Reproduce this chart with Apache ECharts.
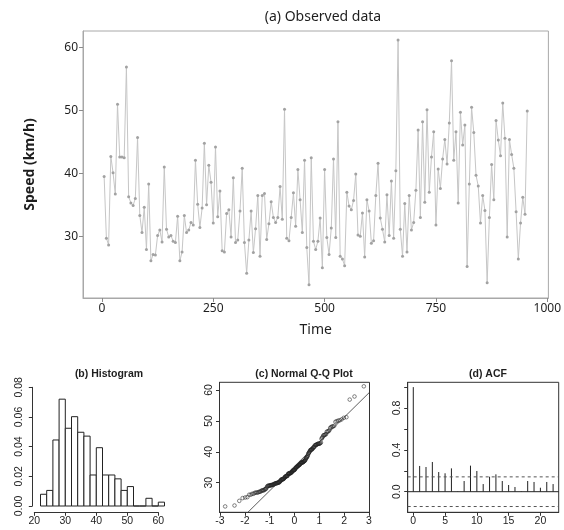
<!DOCTYPE html>
<html>
<head>
<meta charset="utf-8">
<script src="https://cdn.jsdelivr.net/npm/echarts@6/dist/echarts.min.js"></script>
<style>
  html, body { margin: 0; padding: 0; background: #fff; }
  #chart { width: 564px; height: 530px; }
</style>
</head>
<body>
<div id="chart"></div>
<script>
// Observed speed series (km/h), one reading every 5 time units starting at t = 5
const timeStep = 5;
const speeds = [
  39.5, 29.7, 28.6, 42.7, 40.1, 36.7, 51.0, 42.6, 42.6, 42.5, 56.9, 36.3, 35.3, 34.9, 36.0, 45.7,
  33.3, 30.6, 34.6, 27.9, 38.3, 26.1, 27.1, 27.0, 30.1, 31.0, 29.1, 41.0, 31.1, 29.9, 30.1, 29.2,
  29.0, 33.2, 26.1, 27.5, 33.3, 30.6, 31.0, 32.2, 31.8, 42.1, 35.1, 31.4,
  34.5, 44.8, 35.0, 41.3, 38.6, 32.1, 44.2, 33.1, 37.2, 27.7, 27.5, 33.6, 34.2, 29.9, 39.3, 29.0,
  29.4, 34.0, 40.8, 29.0, 24.1, 29.4, 34.0, 27.4, 31.2, 36.5, 26.8, 36.5, 36.8, 29.5, 32.0, 35.5,
  33.0, 32.2, 33.0, 37.9, 32.7, 50.2, 29.7, 29.3, 33.0, 36.9, 31.6, 40.6, 35.8,
  30.6, 42.1, 28.2, 22.3, 42.5, 29.2, 27.9, 29.2, 32.9, 25.0, 40.6, 29.8, 27.1, 31.3, 42.3, 29.8,
  48.2, 26.8, 26.4, 25.3, 37.0, 34.8, 34.2, 35.7, 39.9, 30.2, 30.0, 33.7, 26.7, 35.8, 34.0, 28.9,
  29.3, 36.5, 41.6, 32.9, 31.1, 29.1, 36.6, 30.1, 38.8, 29.7, 40.4, 61.2, 31.1,
  26.8, 35.2, 27.5, 36.5, 31.0, 32.2, 37.3, 46.9, 33.0, 48.2, 35.4, 50.1, 37.0, 42.6, 46.6, 31.8,
  40.7, 37.6, 42.3, 45.4, 41.5, 48.0, 57.9, 42.1, 46.6, 35.3, 49.7, 44.5, 47.7, 25.2, 38.3, 50.5,
  46.5, 39.7, 38.0, 32.1, 36.5, 34.1, 22.6, 33.0, 41.4, 35.8, 48.4, 45.3, 42.8, 51.2,
  45.6, 29.9, 45.4, 43.0, 40.8, 33.9, 26.4, 32.1, 36.2, 33.5, 49.9
];
const timeTicks = [0, 250, 500, 750, 1000];
const speedTicks = [30, 40, 50, 60];

// Histogram: density per 2 km/h bin, first bin starts at 22
const histStart = 22;
const histWidth = 2;
const histDensity = [
  0.0079, 0.0105, 0.0445, 0.0720, 0.0524, 0.0602, 0.0497, 0.0471, 0.0209, 0.0393,
  0.0209, 0.0209, 0.0183, 0.0105, 0.0131, 0, 0, 0.0052, 0, 0.0026
];
const histXTicks = [20, 30, 40, 50, 60];
const histYTicks = [0, 0.02, 0.04, 0.06, 0.08];

// Normal Q-Q axes
const qqXTicks = [-3, -2, -1, 0, 1, 2, 3];
const qqYTicks = [30, 40, 50, 60];

// Sample autocorrelation, lags 0..22
const acfValues = [
  1.0, 0.246, 0.236, 0.284, 0.188, 0.176, 0.223, 0.004, 0.102, 0.249, 0.198, 0.073,
  0.143, 0.166, 0.102, 0.064, 0.045, 0.004, 0.102, 0.093, 0.038, 0.093, 0.073
];
const acfXTicks = [0, 5, 10, 15, 20];
const acfYTicks = [0, 0.2, 0.4, 0.6, 0.8, 1.0];
const acfYLabels = [0, 0.4, 0.8];

// --- helpers -------------------------------------------------------------
// Inverse standard normal CDF (Acklam's rational approximation)
function qnorm(p) {
  const a = [-3.969683028665376e+01, 2.209460984245205e+02, -2.759285104469687e+02,
             1.383577518672690e+02, -3.066479806614716e+01, 2.506628277459239e+00];
  const b = [-5.447609879822406e+01, 1.615858368580409e+02, -1.556989798598866e+02,
             6.680131188771972e+01, -1.328068155288572e+01];
  const c = [-7.784894002430293e-03, -3.223964580411365e-01, -2.400758277161838e+00,
             -2.549671010177489e+00, 4.374664141464968e+00, 2.938163982698783e+00];
  const d = [7.784695709041462e-03, 3.224671290700398e-01, 2.445134137142996e+00,
             3.754408661907416e+00];
  const pl = 0.02425, ph = 1 - pl;
  let q, r;
  if (p < pl) {
    q = Math.sqrt(-2 * Math.log(p));
    return (((((c[0]*q+c[1])*q+c[2])*q+c[3])*q+c[4])*q+c[5]) / ((((d[0]*q+d[1])*q+d[2])*q+d[3])*q+1);
  }
  if (p > ph) {
    q = Math.sqrt(-2 * Math.log(1 - p));
    return -(((((c[0]*q+c[1])*q+c[2])*q+c[3])*q+c[4])*q+c[5]) / ((((d[0]*q+d[1])*q+d[2])*q+d[3])*q+1);
  }
  q = p - 0.5; r = q * q;
  return (((((a[0]*r+a[1])*r+a[2])*r+a[3])*r+a[4])*r+a[5])*q / (((((b[0]*r+b[1])*r+b[2])*r+b[3])*r+b[4])*r+1);
}
// Sample quantile, type 7
function quantile(sorted, p) {
  const h = (sorted.length - 1) * p;
  const lo = Math.floor(h);
  const hi = Math.min(lo + 1, sorted.length - 1);
  return sorted[lo] + (h - lo) * (sorted[hi] - sorted[lo]);
}

const n = speeds.length;
const seriesData = speeds.map((v, i) => [(i + 1) * timeStep, v]);
const sorted = speeds.slice().sort((x, y) => x - y);
const qqData = sorted.map((v, i) => [qnorm((i + 1 - 0.5) / n), v]);
const q1 = quantile(sorted, 0.25), q3 = quantile(sorted, 0.75);
const qqSlope = (q3 - q1) / (qnorm(0.75) - qnorm(0.25));
const qqIntercept = q1 - qqSlope * qnorm(0.25);
const acfBound = 1.96 / Math.sqrt(n);

const QQ_XMIN = -3.02, QQ_XMAX = 3.02;
const ACF_XMIN = -0.88, ACF_XMAX = 22.88;

const topFont = 'Noto Sans';
const rFont = 'Liberation Sans';
const ink = '#1e1e1e';

function rAxisX(grid, min, max, ticks, extra) {
  return Object.assign({
    gridIndex: grid, type: 'value', min: min, max: max,
    splitLine: { show: false },
    axisLine: { onZero: false, lineStyle: { color: '#333', width: 1 } },
    axisTick: { customValues: ticks, length: 3.5, lineStyle: { color: '#333' } },
    axisLabel: { customValues: ticks, margin: 3, fontSize: 10.5, color: ink, fontFamily: rFont,
                 formatter: v => String(v) }
  }, extra || {});
}
function rAxisY(grid, min, max, ticks, labels, fmt, margin, extra) {
  return Object.assign({
    gridIndex: grid, type: 'value', min: min, max: max,
    splitLine: { show: false },
    axisLine: { onZero: false, lineStyle: { color: '#333', width: 1 } },
    axisTick: { customValues: ticks, length: 3.5, lineStyle: { color: '#333' } },
    axisLabel: { customValues: labels, rotate: 90, margin: margin, fontSize: 10.5, color: ink,
                 fontFamily: rFont, formatter: fmt }
  }, extra || {});
}

const chart = echarts.init(document.getElementById('chart'), null, { renderer: 'canvas' });

chart.setOption({
  animation: false,
  backgroundColor: '#fff',
  title: [
    { text: '(a) Observed data', left: 318, top: 5, textAlign: 'center',
      textStyle: { fontSize: 14, fontWeight: 'normal', fontFamily: topFont, color: ink } },
    { text: '(b) Histogram', left: 104, top: 364, textAlign: 'center',
      textStyle: { fontSize: 10.5, fontWeight: 'bold', fontFamily: rFont, color: ink } },
    { text: '(c) Normal Q-Q Plot', left: 299, top: 364, textAlign: 'center',
      textStyle: { fontSize: 10.5, fontWeight: 'bold', fontFamily: rFont, color: ink } },
    { text: '(d) ACF', left: 483, top: 364, textAlign: 'center',
      textStyle: { fontSize: 10.5, fontWeight: 'bold', fontFamily: rFont, color: ink } }
  ],
  grid: [
    { left: 83, top: 31, width: 471, height: 267, show: true, borderColor: '#a8a8a8', borderWidth: 1 },
    { left: 34.3, top: 387.3, width: 124, height: 118.7 },
    { left: 219.5, top: 382.3, width: 150, height: 130, show: true, borderColor: '#333', borderWidth: 1 },
    { left: 407.7, top: 382.3, width: 151, height: 130, show: true, borderColor: '#333', borderWidth: 1 }
  ],
  xAxis: [
    {
      gridIndex: 0, type: 'value', min: -42.5, max: 1002.5,
      splitLine: { show: false },
      axisLine: { onZero: false, lineStyle: { color: '#a8a8a8' } },
      axisTick: { customValues: timeTicks, length: 4, lineStyle: { color: '#8a8a8a' } },
      axisLabel: { customValues: timeTicks, margin: 5, fontSize: 12, color: ink, fontFamily: topFont,
                   formatter: v => String(v) },
      name: 'Time', nameLocation: 'middle', nameGap: 25,
      nameTextStyle: { fontSize: 14, color: ink, fontFamily: topFont }
    },
    rAxisX(1, 20, 60, histXTicks, { offset: 6.3 }),
    rAxisX(2, QQ_XMIN, QQ_XMAX, qqXTicks),
    rAxisX(3, ACF_XMIN, ACF_XMAX, acfXTicks)
  ],
  yAxis: [
    {
      gridIndex: 0, type: 'value', min: 20.18, max: 62.64,
      splitLine: { show: false },
      axisLine: { onZero: false, lineStyle: { color: '#a8a8a8' } },
      axisTick: { customValues: speedTicks, length: 4, lineStyle: { color: '#8a8a8a' } },
      axisLabel: { customValues: speedTicks, margin: 5, fontSize: 12, color: ink, fontFamily: topFont },
      name: 'Speed (km/h)', nameLocation: 'middle', nameGap: 46, nameRotate: 90,
      nameTextStyle: { fontSize: 14, color: ink, fontFamily: topFont, fontWeight: 'bold' }
    },
    rAxisY(1, 0, 0.08, histYTicks, histYTicks, v => v.toFixed(2), 8, { offset: 2 }),
    rAxisY(2, 20.4, 62.5, qqYTicks, qqYTicks, v => String(v), 5),
    rAxisY(3, -0.197, 1.046, acfYTicks, acfYLabels, v => v.toFixed(1), 5)
  ],
  series: [
    {
      type: 'line', xAxisIndex: 0, yAxisIndex: 0, data: seriesData,
      symbol: 'circle', symbolSize: 3, showSymbol: true,
      lineStyle: { color: '#c6c6c6', width: 1 },
      itemStyle: { color: '#a2a2a2' }
    },
    {
      type: 'custom', xAxisIndex: 1, yAxisIndex: 1, clip: false,
      data: histDensity.map((dens, i) => [histStart + i * histWidth, histStart + (i + 1) * histWidth, dens]),
      renderItem: function (params, api) {
        const p0 = api.coord([api.value(0), 0]);
        const p1 = api.coord([api.value(1), api.value(2)]);
        return {
          type: 'rect',
          shape: { x: p0[0], y: p1[1], width: p1[0] - p0[0], height: p0[1] - p1[1] },
          style: { fill: '#fff', stroke: '#222', lineWidth: 1 }
        };
      }
    },
    {
      type: 'scatter', xAxisIndex: 2, yAxisIndex: 2, data: qqData,
      symbol: 'circle', symbolSize: 3.6,
      itemStyle: { color: 'rgba(255,255,255,0)', borderColor: '#222', borderWidth: 0.7 }
    },
    {
      type: 'line', xAxisIndex: 2, yAxisIndex: 2, clip: true, symbol: 'none',
      data: [[QQ_XMIN, qqIntercept + qqSlope * QQ_XMIN], [QQ_XMAX, qqIntercept + qqSlope * QQ_XMAX]],
      lineStyle: { color: '#333', width: 0.8 }
    },
    {
      type: 'line', xAxisIndex: 3, yAxisIndex: 3, symbol: 'none',
      data: [[ACF_XMIN, 0], [ACF_XMAX, 0]],
      lineStyle: { color: '#222', width: 1 }
    },
    {
      type: 'line', xAxisIndex: 3, yAxisIndex: 3, symbol: 'none',
      data: [[ACF_XMIN, acfBound], [ACF_XMAX, acfBound]],
      lineStyle: { color: '#555', width: 1, type: [3, 3] }
    },
    {
      type: 'line', xAxisIndex: 3, yAxisIndex: 3, symbol: 'none',
      data: [[ACF_XMIN, -acfBound], [ACF_XMAX, -acfBound]],
      lineStyle: { color: '#555', width: 1, type: [3, 3] }
    },
    {
      type: 'custom', xAxisIndex: 3, yAxisIndex: 3,
      data: acfValues.map((v, lag) => [lag, v]),
      renderItem: function (params, api) {
        const a = api.coord([api.value(0), 0]);
        const b = api.coord([api.value(0), api.value(1)]);
        return {
          type: 'line',
          shape: { x1: a[0], y1: a[1], x2: b[0], y2: b[1] },
          style: { stroke: '#222', lineWidth: 1 }
        };
      }
    }
  ]
});
</script>
</body>
</html>
